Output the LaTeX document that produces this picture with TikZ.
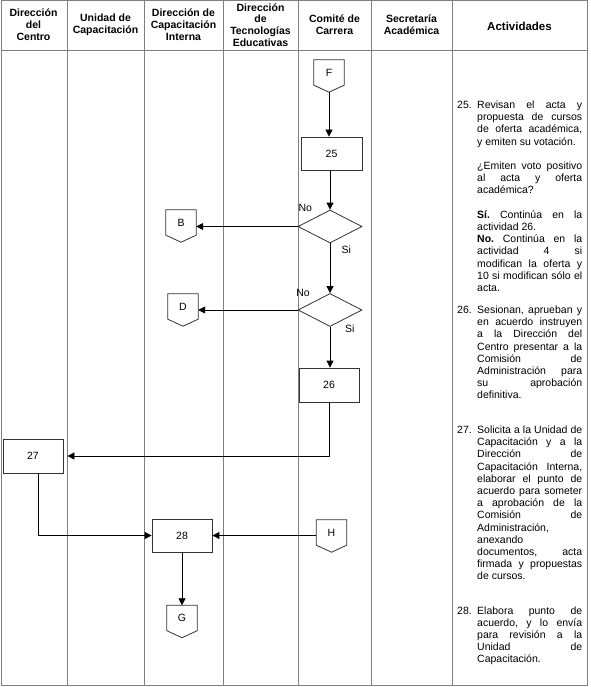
\documentclass[tikz,border=0pt]{standalone}
\usepackage{fontspec}
\setmainfont{Liberation Sans}
\frenchspacing
\usetikzlibrary{shapes.geometric,arrows.meta,calc}
\tikzset{
  grid/.style={draw=black!50, line width=0.8pt},
  proc/.style={draw=black!80, line width=0.8pt, minimum width=60pt, minimum height=33pt, inner sep=0pt, font=\fontsize{10.5}{12}\selectfont},
  dec/.style={draw=black!80, line width=0.8pt, diamond, minimum width=64pt, minimum height=33pt, inner sep=0pt},
  opc/.style={minimum width=30pt, minimum height=25pt, inner sep=0pt, font=\fontsize{10.5}{12}\selectfont},
  opcline/.style={draw=black!80, line width=0.8pt},
  arr/.style={draw=black, line width=0.8pt, -{Triangle[length=7pt,width=7pt]}},
  hdr/.style={align=center, font=\bfseries\fontsize{10.5}{11.8}\selectfont, inner sep=0pt},
  lbl/.style={font=\fontsize{10.5}{12}\selectfont, inner sep=0pt},
  act/.style={anchor=base west, inner sep=0pt, font=\fontsize{10.5}{12.2}\selectfont},
}
\newcommand\offpage[4]{%
  \node[opc] (#1) at (#2,#3) {#4};
  \draw[opcline] (#1.north west) -- (#1.north east) -- (#1.south east) -- ($(#1.south)+(0,7)$) -- (#1.south west) -- cycle;}
\newcommand\JL[1]{\makebox[105pt][s]{#1}}
\newcommand\LL[1]{\makebox[105pt][l]{#1}}
\newcommand\NUM[1]{\makebox[20pt][l]{#1}}
\newcommand\IND{\makebox[20pt][l]{}}
\begin{document}
\begin{tikzpicture}[x=1pt,y=-1pt]
\useasboundingbox (0,0) rectangle (590,687);
% table grid
\draw[grid] (1.5,0.5) rectangle (587,685);
\draw[grid] (1.5,50) -- (587,50);
\foreach \x in {67,144,223,298,371,452} \draw[grid] (\x,0.5) -- (\x,685);
% headers
\node[hdr] (h1) at (33.5,25) {Dirección\\del\\Centro};
\node[hdr] (h2) at (105.5,25) {Unidad de\\Capacitación};
\node[hdr] (h3) at (183.5,25) {Dirección de\\Capacitación\\Interna};
\node[hdr] (h4) at (260.5,25) {Dirección\\de\\Tecnologías\\Educativas};
\node[hdr] (h5) at (334.5,25) {Comité de\\Carrera};
\node[hdr] (h6) at (411.5,25) {Secretaría\\Académica};
\node[hdr, font=\bfseries\fontsize{11.5}{13}\selectfont] (h7) at (519.5,26) {Actividades};
% flow
\offpage{F}{329}{72.5}{F}
\coordinate (Ft) at ($(F.south)+(0,7)$);
\node[proc, minimum width=61pt] (b25) at (331.5,153.5) {25};
\node[dec] (d1) at (330,226.5) {};
\node[dec] (d2) at (330,310) {};
\offpage{B}{181}{222.5}{B}
\offpage{D}{183}{306.5}{D}
\node[proc, minimum height=34pt] (b26) at (329,385) {26};
\node[proc, minimum height=34pt] (b27) at (33,456) {27};
\node[proc] (b28) at (182,535.5) {28};
\offpage{H}{331.5}{532.5}{H}
\offpage{G}{182}{618}{G}
\node[lbl] (no1) at (305.3,208.3) {No};
\node[lbl] (si1) at (346.3,249.3) {Si};
\node[lbl] (no2) at (303,293.3) {No};
\node[lbl] (si2) at (349.7,328.3) {Si};
% connectors
\draw[arr] (Ft) -- (Ft |- b25.north);
\draw[arr] (b25.south -| d1.north) -- (d1.north);
\draw[arr] (d1.west) -- (d1.west -| B.east);
\draw[arr] (d1.south) -- (d2.north);
\draw[arr] (d2.west) -- (d2.west -| D.east);
\draw[arr] (d2.south) -- (b26.north -| d2.south);
\draw[arr, shorten >=4pt] (b26.south) |- (b27.east);
\draw[arr] ([xshift=5pt]b27.south) |- (b28.west);
\draw[arr] (H.west |- b28.east) -- (b28.east);
\draw[arr] (b28.south) -- (G.north);
% activities
\node[act] (a25) at (457,108.5) {\parbox[t]{125pt}{%
\NUM{25.}\JL{Revisan el acta y}\\
\IND\JL{propuesta de cursos}\\
\IND\JL{de oferta académica,}\\
\IND\LL{y emiten su votación.}\\
\mbox{}\\
\IND\JL{¿Emiten voto positivo}\\
\IND\JL{al acta y oferta}\\
\IND\LL{académica?}\\
\mbox{}\\
\IND\JL{\textbf{Sí.} Continúa en la}\\
\IND\LL{actividad 26.}\\
\IND\JL{\textbf{No.} Continúa en la}\\
\IND\JL{actividad 4 si}\\
\IND\JL{modifican la oferta y}\\
\IND\JL{10 si modifican sólo el}\\
\IND\LL{acta.}}};
\node[act] (a26) at (457,313.5) {\parbox[t]{125pt}{%
\NUM{26.}\JL{Sesionan, aprueban y}\\
\IND\JL{en acuerdo instruyen}\\
\IND\JL{a la Dirección del}\\
\IND\JL{Centro presentar a la}\\
\IND\JL{Comisión de}\\
\IND\JL{Administración para}\\
\IND\JL{su aprobación}\\
\IND\LL{definitiva.}}};
\node[act] (a27) at (457,433.5) {\parbox[t]{125pt}{%
\NUM{27.}\JL{Solicita a la Unidad de}\\
\IND\JL{Capacitación y a la}\\
\IND\JL{Dirección de}\\
\IND\JL{Capacitación Interna,}\\
\IND\JL{elaborar el punto de}\\
\IND\JL{acuerdo para someter}\\
\IND\JL{a aprobación de la}\\
\IND\JL{Comisión de}\\
\IND\LL{Administración,}\\
\IND\LL{anexando}\\
\IND\JL{documentos, acta}\\
\IND\JL{firmada y propuestas}\\
\IND\LL{de cursos.}}};
\node[act] (a28) at (457,614) {\parbox[t]{125pt}{%
\NUM{28.}\JL{Elabora punto de}\\
\IND\JL{acuerdo, y lo envía}\\
\IND\JL{para revisión a la}\\
\IND\JL{Unidad de}\\
\IND\LL{Capacitación.}}};
\end{tikzpicture}
\end{document}
